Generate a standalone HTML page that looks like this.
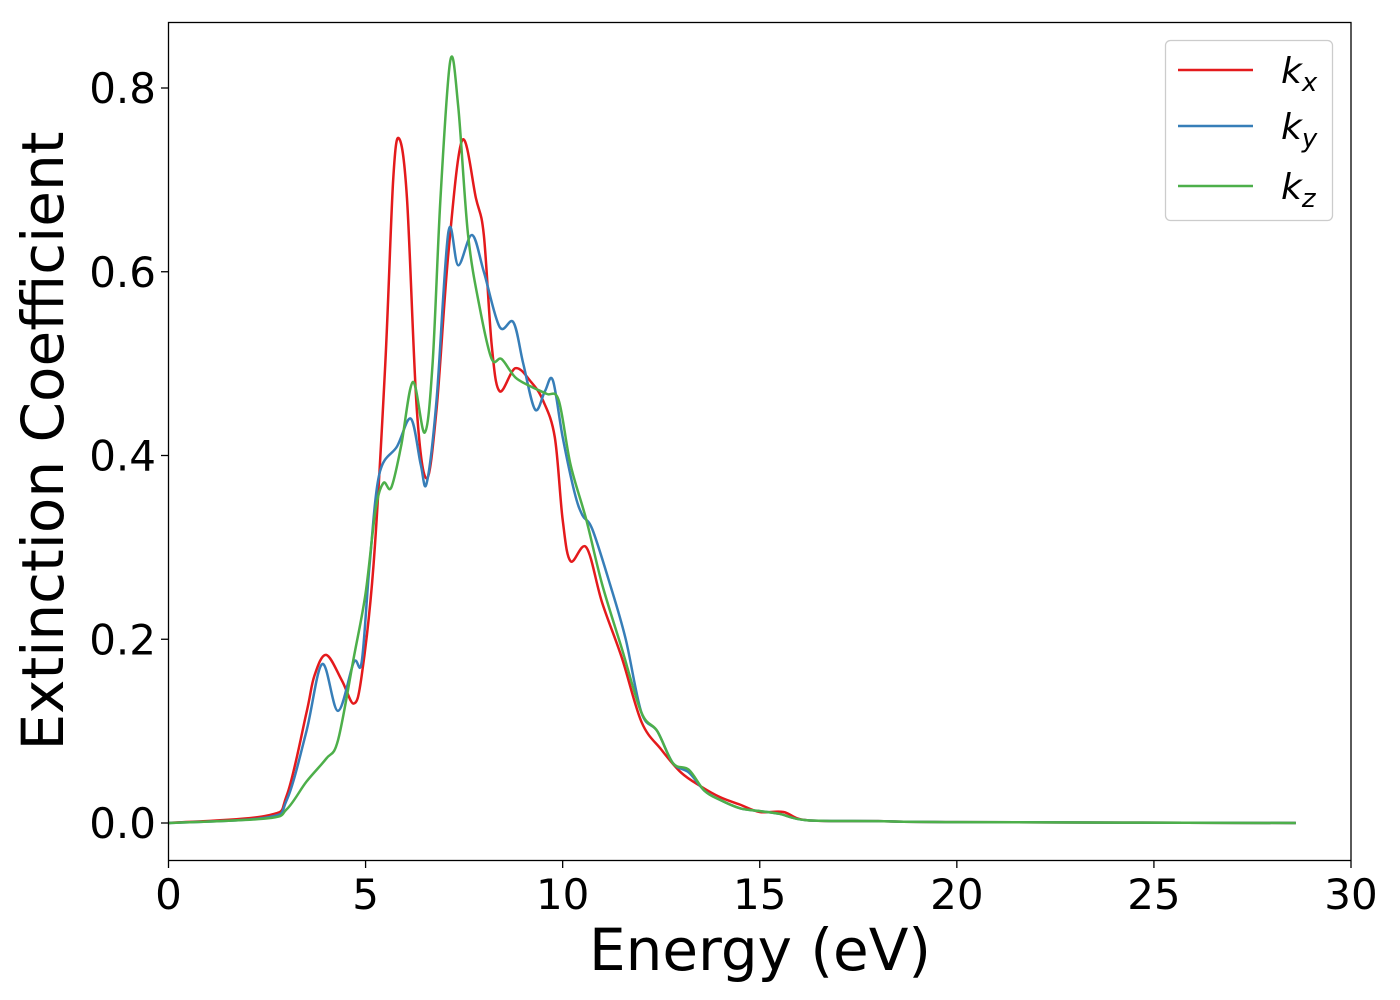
<!DOCTYPE html>
<html><head><meta charset="utf-8"><style>
html,body{margin:0;padding:0;background:#fff;}
svg{display:block;font-family:"DejaVu Sans","Liberation Sans",sans-serif;}
</style></head><body>
<svg id="chart" width="1400" height="1000" viewBox="0 0 1400 1000" xmlns="http://www.w3.org/2000/svg">
<rect x="0" y="0" width="1400" height="1000" fill="#fff"/>
<g id="series"></g>
<rect x="168.5" y="22.5" width="1182.5" height="838" fill="none" stroke="#000" stroke-width="1.3"/>
<g id="xticks"></g>
<g id="yticks"></g>
<text x="760" y="970" font-size="58" text-anchor="middle">Energy (eV)</text>
<text transform="translate(63,441) rotate(-90)" font-size="58" text-anchor="middle">Extinction Coefficient</text>
<g>
<rect x="1165.5" y="40.5" width="167" height="180" rx="5" fill="#fff" stroke="#ccc" stroke-width="1.3"/>
<line x1="1178" y1="70" x2="1253" y2="70" stroke="#e41a1c" stroke-width="2.5"/>
<text x="1281" y="83" font-size="36" font-style="italic">k<tspan font-size="26" dy="8">x</tspan></text>
<line x1="1178" y1="126" x2="1253" y2="126" stroke="#377eb8" stroke-width="2.5"/>
<text x="1281" y="139" font-size="36" font-style="italic">k<tspan font-size="26" dy="8">y</tspan></text>
<line x1="1178" y1="186" x2="1253" y2="186" stroke="#4daf4a" stroke-width="2.5"/>
<text x="1281" y="199" font-size="36" font-style="italic">k<tspan font-size="26" dy="8">z</tspan></text>
</g>
</svg>
<script>
const xTicks = [0, 5, 10, 15, 20, 25, 30];
const yTicks = [0.0, 0.2, 0.4, 0.6, 0.8];
const kxE = [0,2.5,3.0,3.5,3.7,4.0,4.4,4.7,4.9,5.2,5.5,5.7,5.85,6.05,6.3,6.55,6.8,7.1,7.45,7.8,8.0,8.2,8.4,8.8,9.2,9.5,9.8,10.0,10.2,10.6,11.0,11.5,12.0,12.5,13,13.5,14,14.5,15,15.6,16.2,18,20,28.6];
const kxV = [0,0.008,0.03,0.12,0.16,0.183,0.155,0.13,0.16,0.28,0.5,0.70,0.745,0.68,0.45,0.375,0.45,0.62,0.743,0.68,0.64,0.52,0.47,0.495,0.48,0.46,0.42,0.33,0.285,0.30,0.24,0.18,0.11,0.08,0.055,0.04,0.028,0.02,0.012,0.012,0.003,0.002,0.001,0];
const kyE = [0,2.5,3.0,3.5,3.9,4.3,4.7,4.9,5.1,5.35,5.8,6.15,6.4,6.55,6.8,7.1,7.35,7.7,8.0,8.4,8.75,9.0,9.3,9.55,9.75,10.0,10.3,10.5,10.75,11.2,11.6,12.0,12.4,12.8,13.2,13.6,14.0,14.5,15,15.5,16.2,18,20,28.6];
const kyV = [0,0.006,0.025,0.1,0.173,0.122,0.175,0.175,0.28,0.38,0.41,0.44,0.39,0.37,0.46,0.643,0.607,0.64,0.60,0.54,0.545,0.50,0.45,0.47,0.482,0.42,0.36,0.335,0.32,0.26,0.20,0.12,0.10,0.065,0.055,0.035,0.025,0.016,0.013,0.01,0.003,0.002,0.001,0];
const kzE = [0,2.5,3.0,3.5,4.0,4.3,4.7,5.0,5.25,5.45,5.65,5.9,6.2,6.5,6.7,6.9,7.15,7.35,7.6,7.9,8.2,8.45,8.8,9.2,9.6,9.9,10.2,10.6,11.0,11.5,12.0,12.4,12.8,13.2,13.6,14,14.5,15,15.5,16.2,18,20,28.6];
const kzV = [0,0.005,0.015,0.045,0.07,0.09,0.18,0.25,0.34,0.37,0.365,0.41,0.48,0.425,0.5,0.68,0.83,0.78,0.64,0.56,0.505,0.505,0.485,0.475,0.467,0.46,0.39,0.33,0.26,0.19,0.12,0.10,0.065,0.058,0.035,0.025,0.016,0.013,0.01,0.003,0.002,0.001,0];

const NS = "http://www.w3.org/2000/svg";
const X0 = 168.5, X1 = 1351, Y0 = 823, YPER = 918.75;
function xs(v){ return X0 + (v/30)*(X1-X0); }
function ys(v){ return Y0 - v*YPER; }

const gx = document.getElementById('xticks');
xTicks.forEach(t => {
  const l = document.createElementNS(NS,'line');
  
  
  l.setAttribute('x1', xs(t)); l.setAttribute('x2', xs(t));
  l.setAttribute('y1', 861); l.setAttribute('y2', 868);
  l.setAttribute('stroke', '#000'); l.setAttribute('stroke-width', 1.3);
  gx.appendChild(l);
  const tx = document.createElementNS(NS,'text');
  
  
  tx.setAttribute('x', xs(t)); tx.setAttribute('y', 909);
  tx.setAttribute('font-size', 42); tx.setAttribute('text-anchor', 'middle');
  tx.textContent = String(t);
  gx.appendChild(tx);
});
const gy = document.getElementById('yticks');
yTicks.forEach(t => {
  const l = document.createElementNS(NS,'line');
  
  
  l.setAttribute('x1', 161); l.setAttribute('x2', 168);
  l.setAttribute('y1', ys(t)); l.setAttribute('y2', ys(t));
  l.setAttribute('stroke', '#000'); l.setAttribute('stroke-width', 1.3);
  gy.appendChild(l);
  const tx = document.createElementNS(NS,'text');
  
  
  tx.setAttribute('x', 156); tx.setAttribute('y', ys(t)+15);
  tx.setAttribute('font-size', 42); tx.setAttribute('text-anchor', 'end');
  tx.textContent = t.toFixed(1);
  gy.appendChild(tx);
});

function smoothPath(E, V){
  const p = E.map((e,i)=>[xs(e), ys(V[i])]);
  let d = 'M' + p[0][0].toFixed(2) + ',' + p[0][1].toFixed(2);
  for (let i=0;i<p.length-1;i++){
    const a = p[i-1]||p[i], b=p[i], c=p[i+1], n=p[i+2]||c;
    const c1 = [b[0]+(c[0]-a[0])/6, b[1]+(c[1]-a[1])/6];
    const c2 = [c[0]-(n[0]-b[0])/6, c[1]-(n[1]-b[1])/6];
    d += ' C'+c1[0].toFixed(2)+','+c1[1].toFixed(2)+' '+c2[0].toFixed(2)+','+c2[1].toFixed(2)+' '+c[0].toFixed(2)+','+c[1].toFixed(2);
  }
  return d;
}
const gs = document.getElementById('series');
[[kxE,kxV,'#e41a1c','series-kx'],[kyE,kyV,'#377eb8','series-ky'],[kzE,kzV,'#4daf4a','series-kz']].forEach(s=>{
  const path = document.createElementNS(NS,'path');
  
  
  path.setAttribute('d', smoothPath(s[0], s[1]));
  path.setAttribute('fill', 'none');
  path.setAttribute('stroke', s[2]);
  path.setAttribute('stroke-width', 2.5);
  path.setAttribute('stroke-linejoin', 'round');
  gs.appendChild(path);
});
</script>
</body></html>
